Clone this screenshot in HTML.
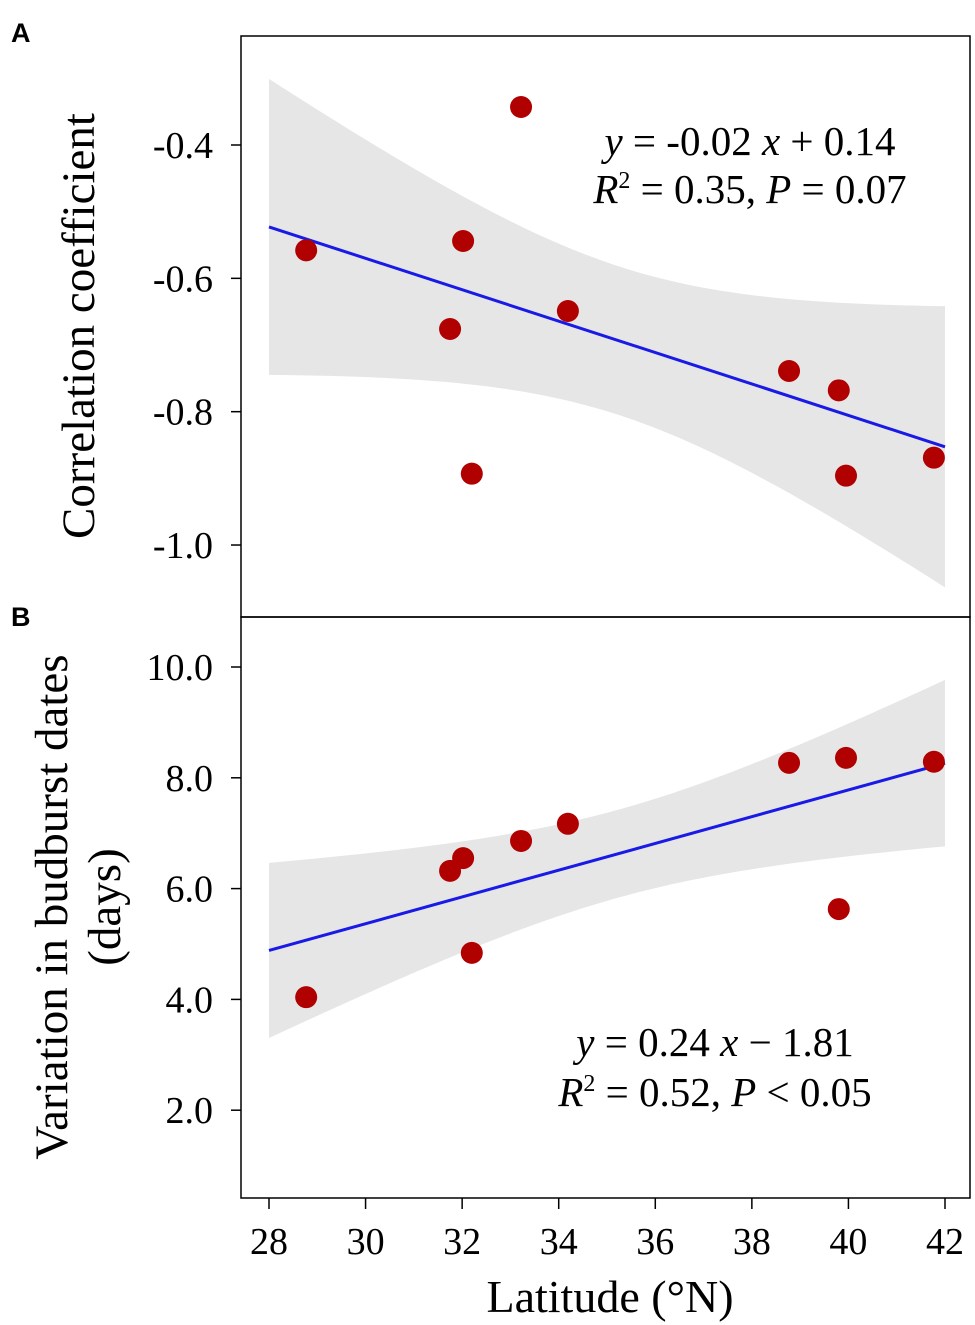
<!DOCTYPE html>
<html><head><meta charset="utf-8"><style>
body{margin:0;background:#fff}
svg{display:block;font-family:"Liberation Serif",serif}
</style></head><body>
<svg id="c" width="975" height="1325" xmlns="http://www.w3.org/2000/svg">
<defs>
<clipPath id="clipA"><rect x="241" y="36" width="729" height="581"/></clipPath>
<clipPath id="clipB"><rect x="241" y="617" width="729" height="581"/></clipPath>
</defs>
<text x="11" y="42" font-family="Liberation Sans,sans-serif" font-weight="bold" font-size="27">A</text>
<text x="11" y="626" font-family="Liberation Sans,sans-serif" font-weight="bold" font-size="27">B</text>
<g id="gA" clip-path="url(#clipA)"></g>
<g id="gB" clip-path="url(#clipB)"></g>
<rect x="241" y="36" width="729" height="581" fill="none" stroke="#000" stroke-width="1.5"/>
<rect x="241" y="617" width="729" height="581" fill="none" stroke="#000" stroke-width="1.5"/>
<g id="axes"></g>
<text transform="translate(94,326) rotate(-90)" text-anchor="middle" font-size="47">Correlation coefficient</text>
<text transform="translate(67,907) rotate(-90)" text-anchor="middle" font-size="47">Variation in budburst dates</text>
<text transform="translate(120,907) rotate(-90)" text-anchor="middle" font-size="47">(days)</text>
<text x="610" y="1312" text-anchor="middle" font-size="46">Latitude (°N)</text>
<text x="750" y="155" text-anchor="middle" font-size="41"><tspan font-style="italic">y</tspan> = -0.02 <tspan font-style="italic">x</tspan> + 0.14</text>
<text x="750" y="203" text-anchor="middle" font-size="41"><tspan font-style="italic">R</tspan><tspan font-size="24" dy="-15">2</tspan><tspan dy="15"> = 0.35, </tspan><tspan font-style="italic">P</tspan> = 0.07</text>
<text x="715" y="1056" text-anchor="middle" font-size="41"><tspan font-style="italic">y</tspan> = 0.24 <tspan font-style="italic">x</tspan> − 1.81</text>
<text x="715" y="1106" text-anchor="middle" font-size="41"><tspan font-style="italic">R</tspan><tspan font-size="24" dy="-15">2</tspan><tspan dy="15"> = 0.52, </tspan><tspan font-style="italic">P</tspan> &lt; 0.05</text>
</svg>
<script>
const latitudes=[28.77,33.22,32.02,31.75,32.2,34.19,38.77,39.8,39.95,41.77];
const corrValues=[-0.558,-0.343,-0.544,-0.676,-0.893,-0.649,-0.739,-0.768,-0.896,-0.869];
const latitudesB=[28.77,31.75,32.02,32.2,33.22,34.19,38.77,39.95,39.8,41.77];
const varValues=[4.04,6.32,6.55,4.84,6.86,7.17,8.27,8.36,5.63,8.29];
const xTicks=[28,30,32,34,36,38,40,42];
const yTicksA=[-0.4,-0.6,-0.8,-1.0];
const yTicksB=[10,8,6,4,2];
const NS="http://www.w3.org/2000/svg";
const xs=v=>269+(v-28)*676/14;
const ysA=v=>145+(-0.4-v)*666.7;
const ysB=v=>667+(10-v)*55.4;
function mk(t,a,p){const e=document.createElementNS(NS,t);for(const k in a)e.setAttribute(k,a[k]);p.appendChild(e);return e;}
function panel(xv,yv,ys,g,tag){
  const n=xv.length,mx=xv.reduce((a,b)=>a+b)/n,my=yv.reduce((a,b)=>a+b)/n;
  let sxx=0,sxy=0;for(let i=0;i<n;i++){sxx+=(xv[i]-mx)**2;sxy+=(xv[i]-mx)*(yv[i]-my);}
  const b=sxy/sxx,a=my-b*mx;let sse=0;for(let i=0;i<n;i++)sse+=(yv[i]-a-b*xv[i])**2;
  const s=Math.sqrt(sse/(n-2)),t=2.306;
  let up=[],lo=[];
  for(let k=0;k<=100;k++){const x=28+14*k/100,f=a+b*x,se=s*Math.sqrt(1/n+(x-mx)**2/sxx);up.push(xs(x)+','+ys(f+t*se));lo.unshift(xs(x)+','+ys(f-t*se));}
  const band=mk('polygon',{points:up.concat(lo).join(' '),fill:'#e6e6e6'},g);
  
  
  const ln=mk('line',{x1:xs(28),y1:ys(a+b*28),x2:xs(42),y2:ys(a+b*42),stroke:'#1a1ae6','stroke-width':3},g);
  
  
  for(let i=0;i<n;i++){const c=mk('circle',{cx:xs(xv[i]),cy:ys(yv[i]),r:11,fill:'#b00000'},g);
    
    }
}
panel(latitudes,corrValues,ysA,document.getElementById('gA'),'a');
panel(latitudesB,varValues,ysB,document.getElementById('gB'),'b');
const ax=document.getElementById('axes');
yTicksA.forEach(v=>{mk('line',{x1:231,x2:241,y1:ysA(v),y2:ysA(v),stroke:'#000','stroke-width':1.5},ax);
  const t=mk('text',{x:213,y:ysA(v)+13,'text-anchor':'end','font-size':38},ax);t.textContent=v.toFixed(1);
  
  });
yTicksB.forEach(v=>{mk('line',{x1:231,x2:241,y1:ysB(v),y2:ysB(v),stroke:'#000','stroke-width':1.5},ax);
  const t=mk('text',{x:213,y:ysB(v)+13,'text-anchor':'end','font-size':38},ax);t.textContent=v.toFixed(1);
  
  });
xTicks.forEach(v=>{mk('line',{x1:xs(v),x2:xs(v),y1:1198,y2:1209,stroke:'#000','stroke-width':1.5},ax);
  const t=mk('text',{x:xs(v),y:1254,'text-anchor':'middle','font-size':38},ax);t.textContent=v;
  
  });
</script>
</body></html>
